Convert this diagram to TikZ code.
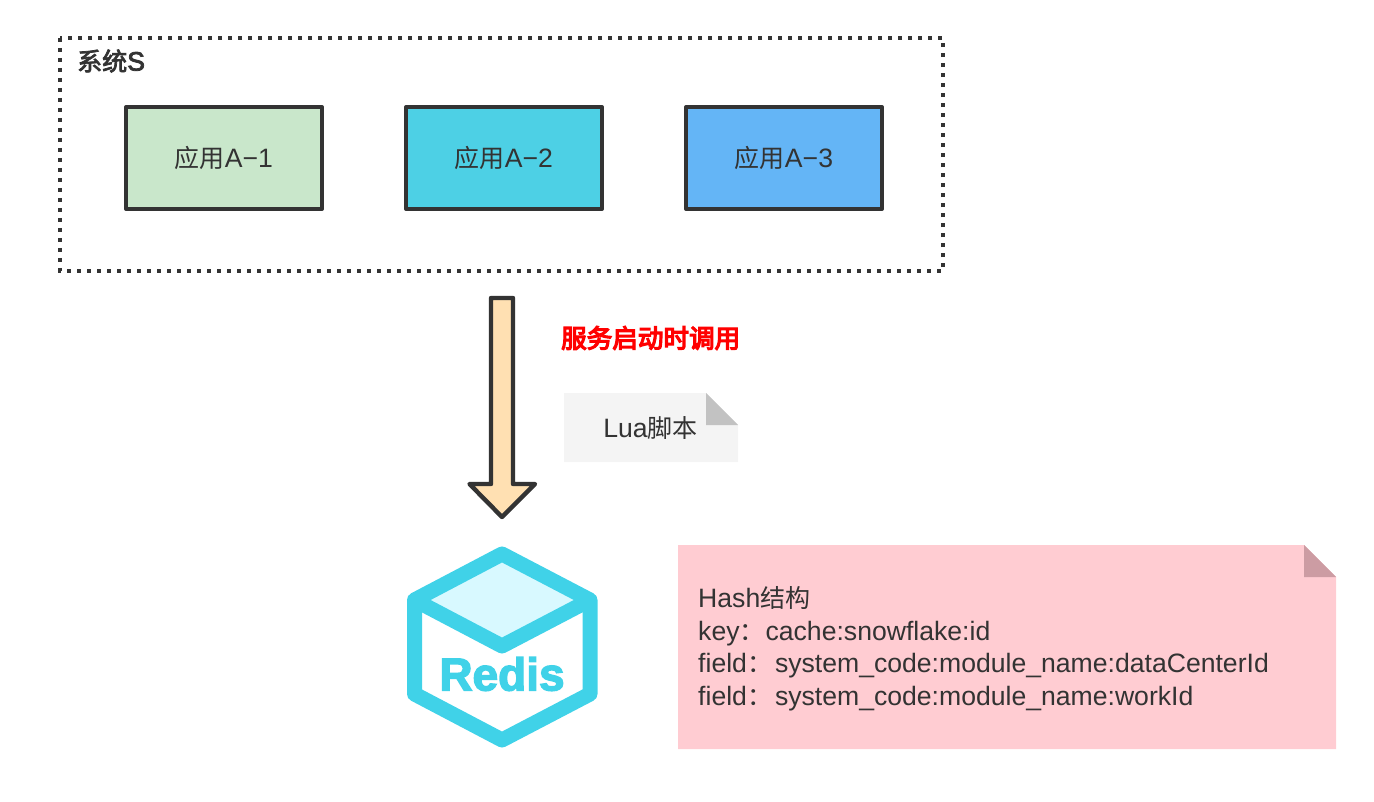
\documentclass[tikz,border=0pt]{standalone}
\usepackage{fontspec}
\setmainfont{Liberation Sans}[BoldFeatures={FakeBold=3}]
\newfontfamily\cjk[Scale=0.94]{Noto Sans CJK SC}
\newfontfamily\cjkm[Scale=0.94,FakeBold=3]{Noto Sans CJK SC}
\newfontfamily\cjkr[Scale=0.94,FakeBold=5]{Noto Sans CJK SC}
\newfontfamily\latm[FakeBold=3]{Liberation Sans}
\definecolor{ink}{HTML}{333333}
\definecolor{greenbox}{HTML}{C9E7CB}
\definecolor{tealbox}{HTML}{4DD0E5}
\definecolor{bluebox}{HTML}{64B5F6}
\definecolor{arrowfill}{HTML}{FFE0B2}
\definecolor{noteg}{HTML}{F4F4F4}
\definecolor{foldg}{HTML}{C2C2C2}
\definecolor{notep}{HTML}{FFCCD2}
\definecolor{foldp}{HTML}{CC9CA3}
\definecolor{rediscyan}{HTML}{40D2E8}
\definecolor{redistop}{HTML}{D8F9FF}
\tikzset{
  appbox/.style={draw=ink,line width=4pt,line join=round,minimum width=196pt,minimum height=102pt,inner sep=0pt,text=ink,font=\fontsize{26.6}{30}\selectfont},
  plainlabel/.style={inner sep=0pt,text=ink,font=\fontsize{26.6}{30}\selectfont},
  framebox/.style={draw=ink,line width=4.4pt,dash pattern=on 4.4pt off 5.6pt},
  hexline/.style={draw=rediscyan,line width=15pt,line join=round}
}
\begin{document}
\begin{tikzpicture}[x=1pt,y=-1pt]
\useasboundingbox (0,0) rectangle (1374,802);
% system frame
\draw[framebox] (60,38) rectangle (943,271);
\node[plainlabel,anchor=west] (sys) at (77,61) {{\cjkm 系统}\latm S};
\node[appbox,fill=greenbox] (a1) at (224,158) {{\cjk 应用}A−1};
\node[appbox,fill=tealbox] (a2) at (504,158) {{\cjk 应用}A−2};
\node[appbox,fill=bluebox] (a3) at (784,158) {{\cjk 应用}A−3};
% block arrow
\draw[draw=ink,fill=arrowfill,line width=4.4pt,line join=round]
  (491,298) -- (513,298) -- (513,484) -- (535,484) -- (502,517) -- (469.5,484) -- (491,484) -- cycle;
\node[inner sep=0pt,anchor=west,text=red,font=\fontsize{27.2}{30}\selectfont\cjkr] (call) at (561,338) {服务启动时调用};
% Lua note
\fill[noteg] (564,393) -- (706,393) -- (738,425) -- (738,462) -- (564,462) -- cycle;
\fill[foldg] (706,393) -- (738,425) -- (706,425) -- cycle;
\node[plainlabel] (lua) at (650.5,428) {Lua{\cjk 脚本}};
% Redis icon
\fill[redistop] (502,554) -- (590,600) -- (502,646) -- (414.5,600) -- cycle;
\draw[hexline] (502,554) -- (590,600) -- (590,694) -- (502,740) -- (414.5,694) -- (414.5,600) -- cycle;
\draw[hexline] (414.5,600) -- (502,646) -- (590,600);
\node[inner sep=0pt,text=rediscyan,font=\fontsize{46}{50}\selectfont\bfseries] (redis) at (502,674) {Redis};
% hash note
\fill[notep] (678,545) -- (1304,545) -- (1336,577) -- (1336,749) -- (678,749) -- cycle;
\fill[foldp] (1304,545) -- (1336,577) -- (1304,577) -- cycle;
\node[inner sep=0pt,anchor=north west,align=left,text=ink,font=\fontsize{26.6}{32.8}\selectfont] (hash) at (698,586)
 {Hash{\cjk 结构}\\key{\cjk ：}\kern1pt cache:snowflake:id\\field{\cjk ：}\kern3pt system\_code:module\_name:dataCenterId\\field{\cjk ：}\kern3pt system\_code:module\_name:workId};
\end{tikzpicture}
\end{document}
